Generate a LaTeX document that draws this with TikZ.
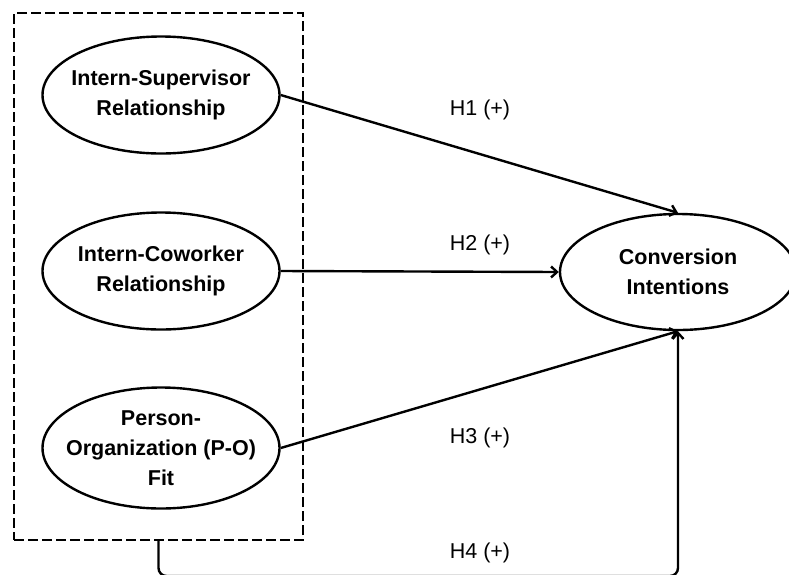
\documentclass[tikz,border=0pt]{standalone}
\usepackage{fontspec}
\setmainfont{Liberation Sans}
\usetikzlibrary{shapes.geometric,arrows.meta}

\tikzset{
  construct/.style={draw,shape=ellipse,line width=2.4pt,inner sep=-14pt,
    align=center,font=\fontsize{21.5}{30}\selectfont\bfseries},
  hyp/.style={font=\fontsize{21.5}{26}\selectfont},
  link/.style={line width=2.4pt,-{Straight Barb[length=6pt,width=11pt,line width=2.4pt]}}
}

\begin{document}
\begin{tikzpicture}[x=1pt,y=-1pt]
   \useasboundingbox (0,0) rectangle (789,574);

   \path (158.5,276.5) node[draw,line width=2.4pt,dash pattern=on 10pt off 4pt,
     minimum width=289pt,minimum height=527pt] (G) {};

   \path (161,95) node[construct,minimum width=237pt,minimum height=117pt] (V1)
   {Intern-Supervisor\\Relationship};
   \path (161,271) node[construct,minimum width=237pt,minimum height=117pt] (V2)
   {Intern-Coworker\\Relationship};
   \path (161,448) node[construct,minimum width=237pt,minimum height=121pt] (V3)
   {Person-\\Organization (P-O)\\Fit};

   \path (678,272) node[construct,minimum width=236pt,minimum height=116pt] (C)
   {Conversion\\Intentions};

   % hypotheses
   \path (480,110) node[hyp] (EV1C) {H1 (+)};
   \path (480,245) node[hyp] (EV2C) {H2 (+)};
   \path (480,438) node[hyp] (EV3C) {H3 (+)};
   \path (480,553) node[hyp] (EGC) {H4 (+)};

   \coordinate (H4c) at (678,576);
   \draw[link] (V1.east) -- (C.north);
   \draw[link] (V2.east) -- (C.west);
   \draw[link] (V3.east) -- (C.south);
   \draw[link,rounded corners=8pt] (G.south) |- (H4c) -- (C.south);
\end{tikzpicture}
\end{document}
